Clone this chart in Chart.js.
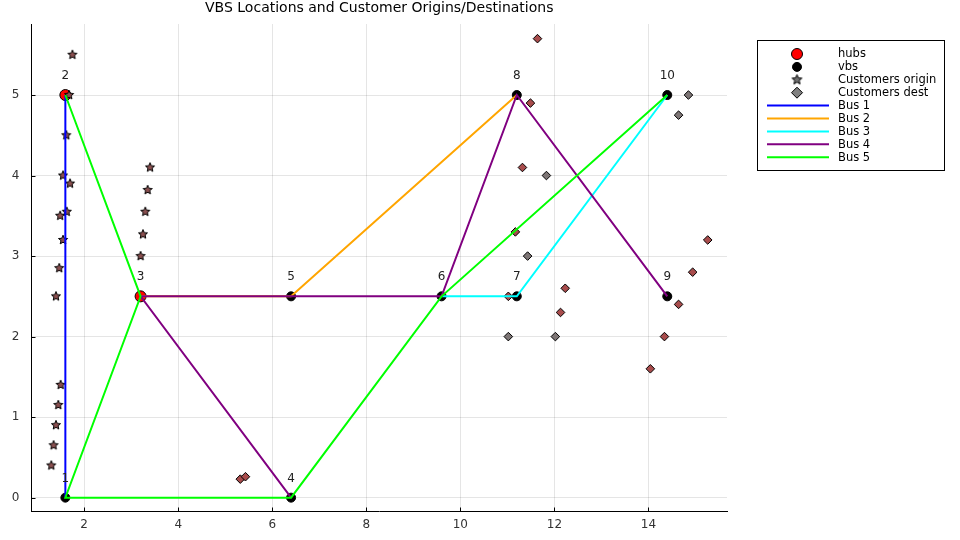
<!DOCTYPE html>
<html>
<head>
<meta charset="utf-8">
<script src="https://cdn.jsdelivr.net/npm/chart.js@4.4.1/dist/chart.umd.min.js"></script>
<style>
  html,body{margin:0;padding:0;background:#fff;}
  #wrap{width:960px;height:540px;position:relative;}
</style>
</head>
<body>
<div id="wrap"><canvas id="c"></canvas></div>
<script>
const TITLE = 'VBS Locations and Customer Origins/Destinations';
// nodes 1..10
const NODE_X = [1.6, 1.6, 3.2, 6.4, 6.4, 9.6, 11.2, 11.2, 14.4, 14.4];
const NODE_Y = [0, 5, 2.5, 0, 2.5, 2.5, 2.5, 5, 2.5, 5];
const HUBS = [2, 3];
const VBS = [1, 4, 5, 6, 7, 8, 9, 10];
const ORIG_X = [1.75, 1.68, 1.62, 1.55, 1.70, 1.63, 1.49, 1.55, 1.47, 1.40, 1.50, 1.45, 1.40, 1.35, 1.30, 3.40, 3.35, 3.30, 3.25, 3.20];
const ORIG_Y = [5.5, 5.0, 4.5, 4.0, 3.9, 3.55, 3.5, 3.2, 2.85, 2.5, 1.4, 1.15, 0.9, 0.65, 0.4, 4.1, 3.82, 3.55, 3.27, 3.0];
const DEST_X = [11.64, 11.49, 11.32, 11.83, 11.17, 11.43, 12.23, 11.02, 12.13, 11.02, 12.02, 14.85, 14.64, 15.26, 14.94, 14.64, 14.34, 14.04, 5.32, 5.43];
const DEST_Y = [5.7, 4.9, 4.1, 4.0, 3.3, 3.0, 2.6, 2.5, 2.3, 2.0, 2.0, 5.0, 4.75, 3.2, 2.8, 2.4, 2.0, 1.6, 0.23, 0.26];
const DEST_TONE = [0, 0, 0, 1, 0, 1, 0, 0, 0, 1, 1, 1, 1, 0, 0, 0, 0, 0, 0, 0];
const BUS_NAMES = ['Bus 1', 'Bus 2', 'Bus 3', 'Bus 4', 'Bus 5'];
const BUS_ROUTES = [[1, 2], [3, 5, 8], [6, 7, 10], [4, 3, 5, 6, 8, 9], [2, 3, 1, 4, 6, 10]];
const X_TICKS = [2, 4, 6, 8, 10, 12, 14];
const Y_TICKS = [0, 1, 2, 3, 4, 5];

const BUS_COLORS = ['#0000ff', '#ffa500', '#00ffff', '#800080', '#00ff00'];
const TONES = ['#a84c4c', '#7d7575'];
const FONT = 'DejaVu Sans';

function starImg(fill, r) {
  const s = Math.ceil(r * 2 + 4), c = document.createElement('canvas');
  c.width = c.height = s;
  const g = c.getContext('2d');
  g.beginPath();
  for (let i = 0; i < 10; i++) {
    const a = -Math.PI / 2 + i * Math.PI / 5, rr = i % 2 ? r * 0.45 : r;
    g.lineTo(s / 2 + rr * Math.cos(a), s / 2 + rr * Math.sin(a));
  }
  g.closePath(); g.fillStyle = fill; g.fill();
  g.lineWidth = 1; g.strokeStyle = '#000'; g.stroke();
  return c;
}
const STAR = starImg('#8a5050', 4.8);
const STAR_LEG = starImg('#707070', 5.2);

const pts = (xs, ys) => xs.map((x, i) => ({x, y: ys[i]}));
const nodePts = ids => ids.map(n => ({x: NODE_X[n - 1], y: NODE_Y[n - 1]}));

const datasets = [
  {label:'hubs', kind:'hub', data:nodePts(HUBS), pointStyle:'circle', pointRadius:5.5, backgroundColor:'#ff0000', borderColor:'#000', borderWidth:1, showLine:false, order:9},
  {label:'vbs', kind:'vbs', data:nodePts(VBS), pointStyle:'circle', pointRadius:4.5, backgroundColor:'#000', borderColor:'#000', borderWidth:1, showLine:false, order:8},
  {label:'Customers origin', kind:'star', data:pts(ORIG_X, ORIG_Y), pointStyle:STAR, pointRadius:5, showLine:false, order:7},
  {label:'Customers dest', kind:'diamond', data:pts(DEST_X, DEST_Y), pointStyle:'rectRot', pointRadius:4.3,
   backgroundColor:DEST_TONE.map(t => TONES[t]), borderColor:'#000', borderWidth:1, showLine:false, order:6}
];
BUS_ROUTES.forEach((r, i) => datasets.push({
  label:BUS_NAMES[i], kind:'line', data:nodePts(r), showLine:true, borderColor:BUS_COLORS[i], borderWidth:2,
  pointRadius:0, backgroundColor:BUS_COLORS[i], order:5 - i
}));

const decor = {
  id:'decor',
  afterDatasetsDraw(chart) {
    const {ctx, chartArea:a, scales:{x, y}} = chart;
    ctx.save();
    // node labels
    ctx.fillStyle = '#222'; ctx.font = '12px ' + FONT; ctx.textAlign = 'center'; ctx.textBaseline = 'middle';
    NODE_X.forEach((v, i) => ctx.fillText(String(i + 1), x.getPixelForValue(v), y.getPixelForValue(NODE_Y[i]) - 19));
    // inward ticks
    ctx.strokeStyle = '#000'; ctx.lineWidth = 1; ctx.beginPath();
    X_TICKS.forEach(v => { const p = Math.round(x.getPixelForValue(v)) + 0.5; ctx.moveTo(p, a.bottom); ctx.lineTo(p, a.bottom - 4); });
    Y_TICKS.forEach(v => { const p = Math.round(y.getPixelForValue(v)) + 0.5; ctx.moveTo(a.left, p); ctx.lineTo(a.left + 4, p); });
    ctx.stroke();
    // title
    ctx.fillStyle = '#000'; ctx.font = '14px ' + FONT;
    ctx.fillText(TITLE, (a.left + a.right) / 2, 8);
    // legend
    const bx = 757, by = 40, bw = 187, bh = 130;
    ctx.fillStyle = '#fff'; ctx.fillRect(bx, by, bw, bh);
    ctx.strokeStyle = '#000'; ctx.strokeRect(bx + 0.5, by + 0.5, bw, bh);
    ctx.font = '11.5px ' + FONT; ctx.textAlign = 'left';
    chart.data.datasets.forEach((d, i) => {
      const cy = 54 + i * 12.9, cx = 797;
      ctx.lineWidth = 1; ctx.strokeStyle = '#000';
      if (d.kind === 'line') {
        ctx.strokeStyle = d.borderColor; ctx.lineWidth = 2;
        ctx.beginPath(); ctx.moveTo(767, cy); ctx.lineTo(829, cy); ctx.stroke();
      } else if (d.kind === 'hub' || d.kind === 'vbs') {
        ctx.fillStyle = d.backgroundColor;
        ctx.beginPath(); ctx.arc(cx, cy, d.kind === 'hub' ? 5.5 : 4.5, 0, Math.PI * 2); ctx.fill(); ctx.stroke();
      } else if (d.kind === 'star') {
        ctx.drawImage(STAR_LEG, cx - STAR_LEG.width / 2, cy - STAR_LEG.height / 2);
      } else {
        ctx.fillStyle = '#808080';
        ctx.beginPath(); ctx.moveTo(cx, cy - 5.5); ctx.lineTo(cx + 5.5, cy); ctx.lineTo(cx, cy + 5.5); ctx.lineTo(cx - 5.5, cy); ctx.closePath();
        ctx.fill(); ctx.stroke();
      }
      ctx.fillStyle = '#000';
      ctx.fillText(d.label, 838, cy + 0.5);
    });
    ctx.restore();
  }
};

new Chart(document.getElementById('c'), {
  type:'scatter',
  data:{datasets},
  options:{
    responsive:true, maintainAspectRatio:false, animation:false,
    layout:{padding:{left:0, top:24, right:233, bottom:0}},
    plugins:{legend:{display:false}, tooltip:{enabled:false}, title:{display:false}},
    scales:{
      x:{type:'linear', min:0.88, max:15.67,
         afterBuildTicks:s => { s.ticks = X_TICKS.map(v => ({value:v})); },
         afterFit:s => { s.height = 28.5; },
         grid:{color:'rgba(0,0,0,0.1)', drawTicks:false},
         border:{color:'#000', width:1},
         ticks:{padding:6, color:'#333', font:{family:FONT, size:12}}},
      y:{type:'linear', min:-0.172, max:5.882,
         afterBuildTicks:s => { s.ticks = Y_TICKS.map(v => ({value:v})); },
         afterFit:s => { s.width = 31.5; },
         grid:{color:'rgba(0,0,0,0.1)', drawTicks:false},
         border:{color:'#000', width:1},
         ticks:{padding:12, color:'#333', font:{family:FONT, size:12}}}
    }
  },
  plugins:[decor]
});
</script>
</body>
</html>
